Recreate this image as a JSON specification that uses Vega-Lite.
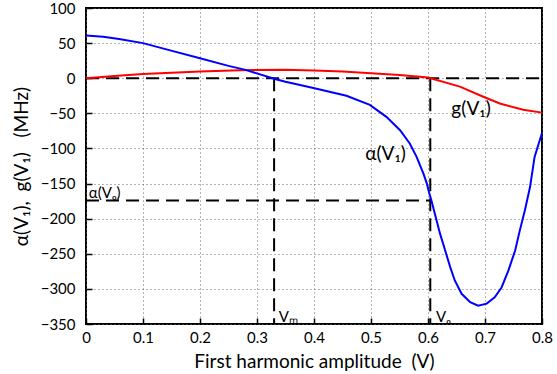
{
  "$schema": "https://vega.github.io/schema/vega-lite/v6.json",
  "width": 456,
  "height": 316,
  "autosize": {"type": "none"},
  "padding": {"left": 86, "top": 8, "right": 15, "bottom": 50},
  "background": "white",
  "config": {
    "view": {"stroke": "black", "strokeWidth": 2},
    "axis": {
      "labelFont": "Lato", "labelFontSize": 15, "labelColor": "black", "labelOverlap": false,
      "titleFont": "Lato", "titleFontSize": 19, "titleFontWeight": "normal", "titleColor": "black",
      "domain": false,
      "gridColor": "#666", "gridDash": [1, 3], "gridWidth": 1,
      "tickColor": "black", "tickWidth": 1.5, "tickSize": -6
    },
    "axisY": {"labelOverlap": false}
  },
  "datasets": {
    "alpha": [
      {"x": 0, "y": 61}, {"x": 0.03, "y": 59}, {"x": 0.058, "y": 56}, {"x": 0.1, "y": 50},
      {"x": 0.146, "y": 40}, {"x": 0.2, "y": 28.5}, {"x": 0.25, "y": 17.6}, {"x": 0.28, "y": 11.9},
      {"x": 0.333, "y": -1.5}, {"x": 0.35, "y": -5}, {"x": 0.399, "y": -14}, {"x": 0.457, "y": -25},
      {"x": 0.498, "y": -38}, {"x": 0.527, "y": -55}, {"x": 0.551, "y": -74}, {"x": 0.568, "y": -93},
      {"x": 0.58, "y": -112}, {"x": 0.592, "y": -136}, {"x": 0.598, "y": -150}, {"x": 0.602, "y": -163},
      {"x": 0.606, "y": -174}, {"x": 0.612, "y": -193}, {"x": 0.621, "y": -221}, {"x": 0.63, "y": -245},
      {"x": 0.639, "y": -269}, {"x": 0.647, "y": -288}, {"x": 0.659, "y": -307}, {"x": 0.674, "y": -319},
      {"x": 0.688, "y": -324}, {"x": 0.703, "y": -321}, {"x": 0.717, "y": -312}, {"x": 0.729, "y": -298},
      {"x": 0.741, "y": -274}, {"x": 0.753, "y": -245}, {"x": 0.761, "y": -217}, {"x": 0.77, "y": -188},
      {"x": 0.779, "y": -155}, {"x": 0.787, "y": -112}, {"x": 0.8, "y": -78}
    ],
    "g": [
      {"x": 0, "y": 0}, {"x": 0.05, "y": 3}, {"x": 0.1, "y": 6}, {"x": 0.2, "y": 9.5},
      {"x": 0.27, "y": 11.5}, {"x": 0.35, "y": 12}, {"x": 0.4, "y": 11}, {"x": 0.45, "y": 9.5},
      {"x": 0.5, "y": 7}, {"x": 0.55, "y": 4.5}, {"x": 0.6, "y": 1}, {"x": 0.656, "y": -12},
      {"x": 0.696, "y": -26}, {"x": 0.726, "y": -36}, {"x": 0.767, "y": -45}, {"x": 0.8, "y": -49}
    ],
    "dashes": [
      {"x": 0, "x2": 0.8, "y": 0, "y2": 0},
      {"x": 0.33, "x2": 0.33, "y": 0, "y2": -350},
      {"x": 0.604, "x2": 0.604, "y": 0, "y2": -350},
      {"x": 0, "x2": 0.604, "y": -174, "y2": -174}
    ],
    "bigLabels": [
      {"x": 0.641, "y": -52, "t": "g(V₁)"},
      {"x": 0.49, "y": -117, "t": "α(V₁)"}
    ],
    "smallLabels": [
      {"x": 0.005, "y": -170, "t": "α(Vₒ)"},
      {"x": 0.338, "y": -347, "t": "Vₘ"},
      {"x": 0.614, "y": -347, "t": "Vₒ"}
    ]
  },
  "encoding": {
    "x": {"field": "x", "type": "quantitative", "scale": {"domain": [0, 0.8], "nice": false, "zero": false},
      "axis": {"title": "First harmonic amplitude\u00a0\u00a0(V)", "values": [0, 0.1, 0.2, 0.3, 0.4, 0.5, 0.6, 0.7, 0.8], "format": "~g", "labelPadding": 12, "titlePadding": 7, "grid": true, "labelOverlap": false, "labelFlush": false}},
    "y": {"field": "y", "type": "quantitative", "scale": {"domain": [-350, 100], "nice": false, "zero": false},
      "axis": {"title": "α(V₁),\u00a0\u00a0g(V₁)\u00a0\u00a0\u00a0(MHz)", "values": [-350, -300, -250, -200, -150, -100, -50, 0, 50, 100], "labelPadding": 17, "titlePadding": 9, "grid": true, "labelOverlap": false, "labelFlush": false}}
  },
  "layer": [
    {
      "data": {"name": "dashes"},
      "mark": {"type": "rule", "color": "black", "strokeWidth": 2, "strokeDash": [13, 7]},
      "encoding": {
        "x2": {"field": "x2"},
        "y2": {"field": "y2"}
      }
    },
    {
      "data": {"name": "g"},
      "mark": {"type": "line", "color": "#ff0000", "strokeWidth": 2}
    },
    {
      "data": {"name": "alpha"},
      "mark": {"type": "line", "color": "#0000ff", "strokeWidth": 2}
    },
    {
      "data": {"name": "bigLabels"},
      "mark": {"type": "text", "font": "Lato", "fontSize": 19, "align": "left", "baseline": "alphabetic", "color": "black"},
      "encoding": {"text": {"field": "t"}}
    },
    {
      "data": {"name": "smallLabels"},
      "mark": {"type": "text", "font": "Lato", "fontSize": 15, "align": "left", "baseline": "alphabetic", "color": "black"},
      "encoding": {"text": {"field": "t"}}
    }
  ]
}
